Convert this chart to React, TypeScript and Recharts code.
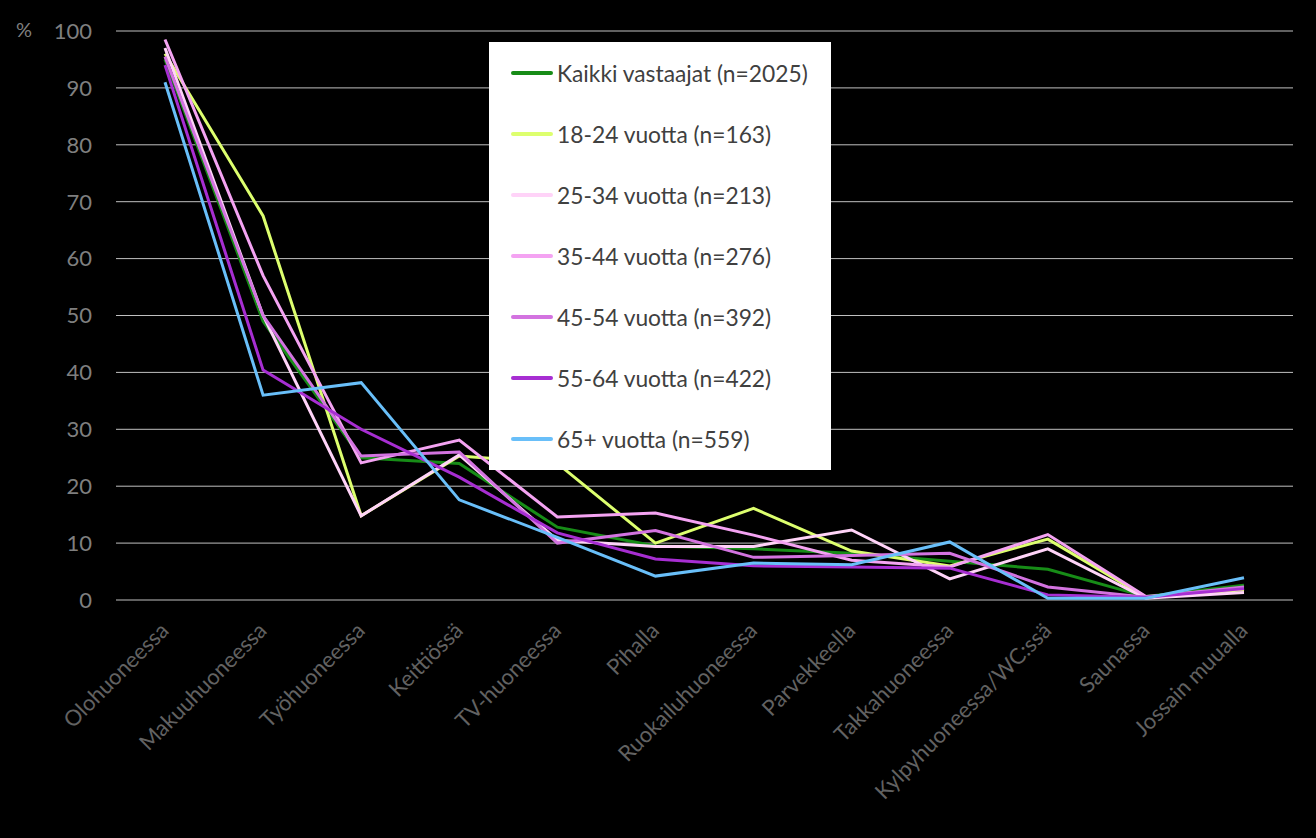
import React from 'react';
import { LineChart, Line, XAxis, YAxis, CartesianGrid, Legend } from 'recharts';

const categories = [
  'Olohuoneessa', 'Makuuhuoneessa', 'Työhuoneessa', 'Keittiössä', 'TV-huoneessa', 'Pihalla',
  'Ruokailuhuoneessa', 'Parvekkeella', 'Takkahuoneessa', 'Kylpyhuoneessa/WC:ssä', 'Saunassa', 'Jossain muualla',
];
const kaikki = [95, 49, 25, 24, 12.8, 9.5, 9.0, 8.2, 6.8, 5.4, 0.6, 2.6];
const v1824 = [96, 67.5, 14.8, 25.3, 24, 10, 16.1, 8.6, 6.0, 10.7, 0.5, 1.8];
const v2534 = [97, 50, 14.8, 25.5, 10.5, 9.4, 9.4, 12.3, 3.7, 9.0, 0.3, 1.3];
const v3544 = [98.5, 57, 24.1, 28.1, 14.6, 15.3, 11.4, 7.0, 5.8, 11.5, 0.6, 2.0];
const v4554 = [95.5, 50, 25.3, 26, 10.0, 12.2, 7.5, 7.8, 8.2, 2.3, 0.5, 2.3];
const v5564 = [94, 40.4, 30, 21.6, 11.8, 7.2, 6.0, 5.8, 5.6, 0.9, 0.5, 2.0];
const v65 = [91, 36, 38.2, 17.6, 11, 4.2, 6.5, 6.2, 10.2, 0.3, 0.3, 3.9];
const yTicks = [0, 10, 20, 30, 40, 50, 60, 70, 80, 90, 100];

const series = [
  { key: 'kaikki', name: 'Kaikki vastaajat (n=2025)', values: kaikki, color: '#178c17' },
  { key: 'v1824', name: '18-24 vuotta (n=163)', values: v1824, color: '#ddff6e' },
  { key: 'v2534', name: '25-34 vuotta (n=213)', values: v2534, color: '#ffd3f8' },
  { key: 'v3544', name: '35-44 vuotta (n=276)', values: v3544, color: '#f4a3f2' },
  { key: 'v4554', name: '45-54 vuotta (n=392)', values: v4554, color: '#d373e0' },
  { key: 'v5564', name: '55-64 vuotta (n=422)', values: v5564, color: '#a72ed2' },
  { key: 'v65', name: '65+ vuotta  (n=559)', values: v65, color: '#69bff9' },
];

const data = categories.map((c, i) => {
  const row: any = { cat: c };
  series.forEach((s) => { row[s.key] = s.values[i]; });
  return row;
});

const FONT = 'Lato, "Open Sans", sans-serif';

const XTick = (props: any) => {
  const { x, payload } = props;
  return (
    <g transform={`translate(${x + 5},${632})`}>
      <text
        x={0}
        y={0}
        textAnchor="end"
        transform="rotate(-45)"
        fill="#626262"
        fontSize={22}
        fontFamily={FONT}
      >
        {payload.value}
      </text>
    </g>
  );
};

const renderLegend = () => (
  <div
    style={{
      width: 342,
      height: 428,
      background: '#ffffff',
      position: 'relative',
      fontFamily: FONT,
    }}
  >
    {series.map((s, i) => (
      <div
        key={s.key}
        style={{
          position: 'absolute',
          left: 22,
          top: 31 + i * 61 - 15,
          height: 30,
          display: 'flex',
          alignItems: 'center',
          whiteSpace: 'nowrap',
        }}
      >
        <div style={{ width: 42, height: 4, borderRadius: 2, background: s.color, marginRight: 4 }} />
        <span style={{ fontSize: 22.8, color: '#404040' }}>{s.name}</span>
      </div>
    ))}
  </div>
);

export default function App() {
  return (
    <div style={{ position: 'absolute', left: 0, top: 0, width: 1316, height: 838, background: '#000' }}>
      <div
        style={{
          position: 'absolute',
          left: 16,
          top: 17,
          color: '#7f7f7f',
          fontSize: 20,
          fontFamily: FONT,
        }}
      >
        %
      </div>
      <LineChart
        width={1316}
        height={838}
        data={data}
        margin={{ top: 31, right: 23, left: 0, bottom: 0 }}
      >
        <CartesianGrid horizontal vertical={false} stroke="#c0c0c0" strokeWidth={1} />
        <XAxis
          dataKey="cat"
          axisLine={false}
          tickLine={false}
          interval={0}
          tick={<XTick />}
          height={238}
          padding={{ left: 49, right: 49 }}
        />
        <YAxis
          domain={[0, 100]}
          ticks={yTicks}
          width={116}
          axisLine={false}
          tickLine={false}
          tickMargin={18}
          tick={{ fill: '#7f7f7f', fontSize: 22, fontFamily: FONT }}
        />
        <Legend
          layout="horizontal"
          verticalAlign="middle"
          align="center"
          content={renderLegend}
          wrapperStyle={{ position: 'absolute', left: 489, top: 42, width: 342, height: 428 }}
        />
        {series.map((s) => (
          <Line
            key={s.key}
            type="linear"
            dataKey={s.key}
            name={s.name}
            stroke={s.color}
            strokeWidth={3}
            dot={false}
            activeDot={false}
            isAnimationActive={false}
          />
        ))}
      </LineChart>
    </div>
  );
}
